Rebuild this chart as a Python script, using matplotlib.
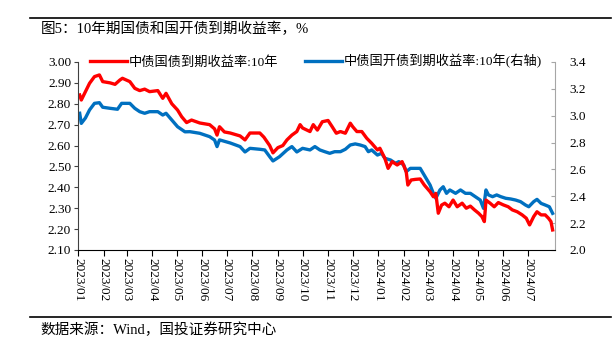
import matplotlib
matplotlib.use("Agg")
import matplotlib.pyplot as plt
import matplotlib.dates as mdates
import pandas as pd

plt.rcParams['font.family'] = ['Liberation Serif', 'Noto Sans CJK SC']
plt.rcParams['axes.unicode_minus'] = False

# 中债国债到期收益率:10年 (left axis)
gov_dates = [
    "2023-01-03", "2023-01-05", "2023-01-10", "2023-01-15", "2023-01-21", "2023-01-27", "2023-01-31",
    "2023-02-09", "2023-02-15", "2023-02-21", "2023-02-24", "2023-03-05", "2023-03-11", "2023-03-17",
    "2023-03-23", "2023-03-29", "2023-04-08", "2023-04-14", "2023-04-18", "2023-04-25", "2023-05-02",
    "2023-05-07", "2023-05-13", "2023-05-19", "2023-05-29", "2023-06-10", "2023-06-16", "2023-06-19",
    "2023-06-22", "2023-06-28", "2023-07-05", "2023-07-17", "2023-07-23", "2023-07-29", "2023-08-10",
    "2023-08-15", "2023-08-22", "2023-08-26", "2023-09-01", "2023-09-07", "2023-09-12", "2023-09-18",
    "2023-09-24", "2023-09-28", "2023-10-01", "2023-10-10", "2023-10-14", "2023-10-19", "2023-10-25",
    "2023-11-01", "2023-11-06", "2023-11-11", "2023-11-16", "2023-11-22", "2023-11-28", "2023-12-01",
    "2023-12-06", "2023-12-12", "2023-12-18", "2023-12-24", "2023-12-31", "2024-01-03", "2024-01-09",
    "2024-01-13", "2024-01-18", "2024-01-24", "2024-01-30", "2024-02-04", "2024-02-06", "2024-02-10",
    "2024-02-15", "2024-02-21", "2024-02-26", "2024-03-04", "2024-03-08", "2024-03-11", "2024-03-14",
    "2024-03-18", "2024-03-22", "2024-03-27", "2024-04-01", "2024-04-06", "2024-04-12", "2024-04-17",
    "2024-04-22", "2024-04-27", "2024-05-02", "2024-05-06", "2024-05-09", "2024-05-11", "2024-05-16",
    "2024-05-21", "2024-05-26", "2024-06-01", "2024-06-07", "2024-06-12", "2024-06-18", "2024-06-24",
    "2024-06-29", "2024-07-03", "2024-07-08", "2024-07-12", "2024-07-17", "2024-07-22", "2024-07-26",
    "2024-07-29", "2024-07-31",
]
gov_yield = [
    2.842, 2.818, 2.858, 2.898, 2.930, 2.938, 2.906,
    2.900, 2.893, 2.914, 2.922, 2.906, 2.874, 2.863,
    2.870, 2.858, 2.863, 2.826, 2.850, 2.800, 2.770,
    2.738, 2.710, 2.722, 2.708, 2.700, 2.680, 2.650,
    2.690, 2.665, 2.660, 2.646, 2.627, 2.660, 2.660,
    2.640, 2.600, 2.565, 2.590, 2.600, 2.627, 2.650,
    2.667, 2.700, 2.684, 2.667, 2.700, 2.674, 2.714,
    2.720, 2.690, 2.659, 2.667, 2.659, 2.707, 2.690,
    2.667, 2.667, 2.635, 2.611, 2.579, 2.587, 2.539,
    2.491, 2.523, 2.507, 2.523, 2.475, 2.411, 2.435,
    2.438, 2.440, 2.411, 2.379, 2.355, 2.371, 2.276,
    2.315, 2.324, 2.307, 2.339, 2.307, 2.324, 2.300,
    2.310, 2.292, 2.276, 2.260, 2.236, 2.339, 2.324,
    2.307, 2.327, 2.316, 2.307, 2.292, 2.283, 2.268,
    2.252, 2.220, 2.260, 2.283, 2.268, 2.268, 2.252,
    2.236, 2.196,
]

# 中债国开债到期收益率:10年 (right axis)
cdb_dates = [
    "2023-01-03", "2023-01-05", "2023-01-10", "2023-01-15", "2023-01-21", "2023-01-27", "2023-01-31",
    "2023-02-09", "2023-02-18", "2023-02-23", "2023-03-05", "2023-03-11", "2023-03-17", "2023-03-23",
    "2023-03-29", "2023-04-08", "2023-04-14", "2023-04-18", "2023-04-25", "2023-05-02", "2023-05-11",
    "2023-05-17", "2023-05-29", "2023-06-10", "2023-06-16", "2023-06-19", "2023-06-22", "2023-07-05",
    "2023-07-17", "2023-07-23", "2023-07-29", "2023-08-10", "2023-08-16", "2023-08-22", "2023-08-26",
    "2023-09-03", "2023-09-12", "2023-09-18", "2023-09-24", "2023-10-01", "2023-10-10", "2023-10-16",
    "2023-10-22", "2023-10-28", "2023-11-03", "2023-11-09", "2023-11-16", "2023-11-22", "2023-11-28",
    "2023-12-04", "2023-12-10", "2023-12-16", "2023-12-20", "2023-12-24", "2023-12-31", "2024-01-05",
    "2024-01-09", "2024-01-16", "2024-01-22", "2024-01-26", "2024-02-01", "2024-02-04", "2024-02-09",
    "2024-02-15", "2024-02-21", "2024-02-27", "2024-03-04", "2024-03-08", "2024-03-11", "2024-03-16",
    "2024-03-20", "2024-03-24", "2024-03-28", "2024-04-04", "2024-04-10", "2024-04-16", "2024-04-22",
    "2024-04-28", "2024-05-04", "2024-05-08", "2024-05-11", "2024-05-14", "2024-05-19", "2024-05-24",
    "2024-05-29", "2024-06-04", "2024-06-10", "2024-06-16", "2024-06-22", "2024-06-28", "2024-07-02",
    "2024-07-08", "2024-07-12", "2024-07-17", "2024-07-22", "2024-07-27", "2024-07-31",
]
cdb_yield = [
    3.018, 2.943, 2.983, 3.043, 3.092, 3.097, 3.063,
    3.055, 3.048, 3.092, 3.092, 3.055, 3.030, 3.018,
    3.030, 3.030, 3.005, 3.018, 2.968, 2.918, 2.880,
    2.881, 2.869, 2.844, 2.819, 2.770, 2.820, 2.797,
    2.770, 2.730, 2.757, 2.750, 2.745, 2.695, 2.663,
    2.695, 2.745, 2.770, 2.730, 2.757, 2.745, 2.770,
    2.745, 2.732, 2.720, 2.732, 2.732, 2.750, 2.782,
    2.790, 2.782, 2.770, 2.732, 2.745, 2.707, 2.720,
    2.683, 2.670, 2.645, 2.658, 2.633, 2.583, 2.608,
    2.608, 2.608, 2.546, 2.484, 2.422, 2.385, 2.447,
    2.471, 2.422, 2.447, 2.422, 2.447, 2.422, 2.422,
    2.397, 2.372, 2.310, 2.447, 2.410, 2.397, 2.410,
    2.397, 2.385, 2.380, 2.372, 2.360, 2.335, 2.322,
    2.360, 2.377, 2.347, 2.335, 2.322, 2.273,
]

left_ticks = [2.10, 2.20, 2.30, 2.40, 2.50, 2.60, 2.70, 2.80, 2.90, 3.00]
right_ticks = [2.0, 2.2, 2.4, 2.6, 2.8, 3.0, 3.2, 3.4]
month_ticks = pd.date_range("2023-01-01", "2024-07-01", freq="MS")

gov_x = pd.to_datetime(gov_dates)
cdb_x = pd.to_datetime(cdb_dates)

fig = plt.figure(figsize=(6.12, 3.53), dpi=100)
ax = fig.add_axes([0.1275, 0.2918, 0.7795, 0.5326])
ax2 = ax.twinx()

l1, = ax.plot(gov_x, gov_yield, color='#FF0000', lw=2.4, label='中债国债到期收益率:10年')
l2, = ax2.plot(cdb_x, cdb_yield, color='#0070C0', lw=2.4, label='中债国开债到期收益率:10年(右轴)')
ax.set_zorder(ax2.get_zorder() + 1)
ax.patch.set_visible(False)

ax.set_ylim(2.10, 3.00)
ax.set_yticks(left_ticks)
ax.set_yticklabels([f"{t:.2f}" for t in left_ticks])
ax2.set_ylim(2.0, 3.4)
ax2.set_yticks(right_ticks)
ax2.set_yticklabels([f"{t:.1f}" for t in right_ticks])

ax.set_xlim(pd.Timestamp("2023-01-01"), pd.Timestamp("2024-08-03"))
ax.set_xticks(month_ticks)
ax.xaxis.set_major_formatter(mdates.DateFormatter('%Y/%m'))
for lab in ax.get_xticklabels():
    lab.set_rotation(-90)

for a in (ax, ax2):
    a.spines['top'].set_visible(False)
ax.spines['right'].set_visible(False)
ax2.spines['left'].set_visible(False)
ax2.spines['bottom'].set_visible(False)
ax.spines['left'].set_color('#404040')
ax.spines['bottom'].set_color('#000000')
ax2.spines['right'].set_color('#A6A6A6')

ax.tick_params(axis='y', direction='out', length=3, labelsize=9.5, pad=2, color='#404040')
ax.tick_params(axis='x', direction='out', length=4, labelsize=9.5, pad=2)
ax2.tick_params(axis='y', direction='in', length=3, labelsize=9.5, pad=10, color='#A6A6A6')

ax.legend([l1, l2], [l1.get_label(), l2.get_label()], ncol=2, loc='upper left',
          bbox_to_anchor=(0.025, 1.04), frameon=False, fontsize=9.5,
          handlelength=2.8, handletextpad=0.15, columnspacing=2.0, borderpad=0, borderaxespad=0)

fig.text(0.066, 0.919, '图5：10年期国债和国开债到期收益率，%', fontsize=10.5, va='center', ha='left')
fig.text(0.066, 0.065, '数据来源：Wind，国投证券研究中心', fontsize=10.5, va='center', ha='left')
fig.add_artist(plt.Line2D([0.049, 0.998], [0.95, 0.95], color='black', lw=1.2))
fig.add_artist(plt.Line2D([0.049, 0.998], [0.102, 0.102], color='black', lw=1.2))

fig.savefig('out.png', dpi=100)
